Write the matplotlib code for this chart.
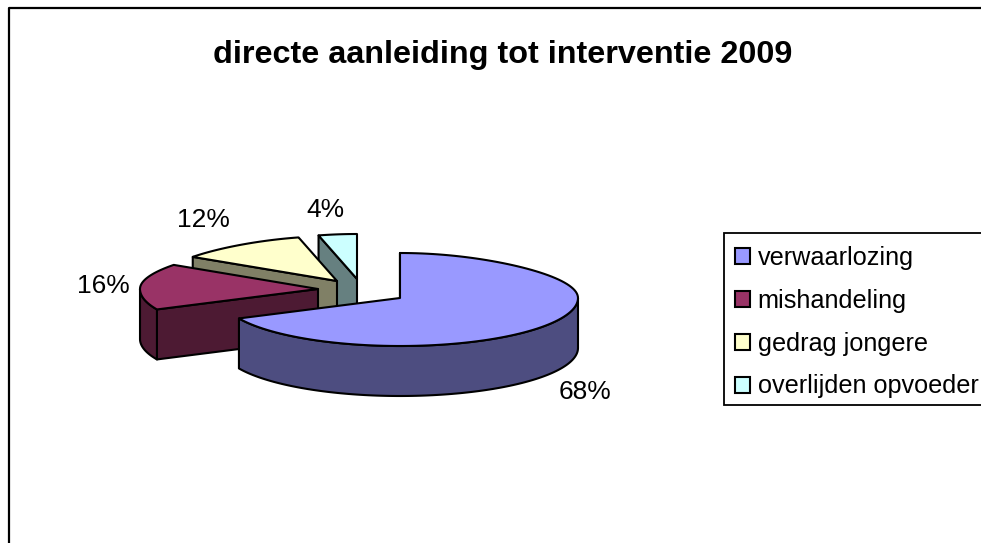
import numpy as np
import matplotlib
matplotlib.use("Agg")
import matplotlib.pyplot as plt
from matplotlib.patches import Polygon, Patch, Rectangle

plt.rcParams['font.family'] = ['Liberation Sans', 'DejaVu Sans']

title = "directe aanleiding tot interventie 2009"
labels = ["verwaarlozing", "mishandeling", "gedrag jongere", "overlijden opvoeder"]
values = [68, 16, 12, 4]

# top colours and the darker side colours
top_colors = ["#9999FF", "#993366", "#FFFFCC", "#CCFFFF"]
side_colors = ["#4D4D80", "#4D1A33", "#808066", "#668080"]

# where the point of each exploded slice sits, in pixels
centers = [(400, 298), (318, 289), (337, 281), (357, 279)]
label_pos = [(585, 392), (103, 286), (203, 220), (325, 210)]

RX = 178
RY_BACK = 45
RY_FRONT = 48
DEPTH = 50


def rim(cx, cy, theta):
    # theta in degrees, clockwise from 12 o'clock. back of the pie is narrower
    t = np.radians(theta)
    c = np.cos(t)
    squeeze = 1 - 0.14 * np.clip(c, 0, None) ** 2
    ry = np.where(c > 0, RY_BACK, RY_FRONT)
    return cx + RX * squeeze * np.sin(t), cy - ry * c


def add_poly(ax, xs, ys, color):
    ax.add_patch(Polygon(np.column_stack([xs, ys]), closed=True, facecolor=color,
                         edgecolor="black", linewidth=1.5, joinstyle="round"))


fig = plt.figure(figsize=(9.81, 5.43), dpi=100)
ax = fig.add_axes([0, 0, 1, 1])
ax.set_xlim(0, 981)
ax.set_ylim(543, 0)
ax.axis("off")

# chart frame runs off the picture on the right and bottom
ax.plot([8.5, 8.5, 990], [550, 7.5, 7.5], color="black", linewidth=1.6)

ends = np.cumsum(values) / np.sum(values) * 360
starts = np.concatenate([[0], ends[:-1]])

# back slices first, the big one goes on top
for i in [3, 2, 1, 0]:
    cx, cy = centers[i]
    a, b = starts[i], ends[i]
    thetas = np.linspace(a, b, 120)
    x, y = rim(cx, cy, thetas)

    # cut face at the start of the slice
    sx, sy = rim(cx, cy, a)
    add_poly(ax, [sx, cx, cx, sx], [sy, cy, cy + DEPTH, sy + DEPTH], side_colors[i])

    # outer wall, only the part that faces us
    lo, hi = max(a, 90), min(b, 270)
    if hi > lo:
        wt = np.linspace(lo, hi, 120)
        wx, wy = rim(cx, cy, wt)
        add_poly(ax, np.r_[wx, wx[::-1]], np.r_[wy, wy[::-1] + DEPTH], side_colors[i])

    add_poly(ax, np.r_[cx, x], np.r_[cy, y], top_colors[i])

    ax.text(label_pos[i][0], label_pos[i][1], "%d%%" % values[i], fontsize=19,
            ha="center", va="center", color="black")

ax.text(503, 55, title, fontsize=23.3, fontweight="bold", ha="center", va="center")

# legend box also runs off the right side, so it is drawn by hand
ax.add_patch(Rectangle((724, 233), 270, 172, facecolor="white", edgecolor="black", linewidth=1.3))
handles = [Patch(facecolor=c, edgecolor="black", linewidth=1.5) for c in top_colors]
leg = ax.legend(handles, labels, loc="upper left", bbox_to_anchor=(724 / 981, 1 - 235 / 543),
                fontsize=18.2, frameon=False,
                handlelength=0.59, handleheight=0.59, handletextpad=0.32,
                labelspacing=0.75, borderaxespad=0, borderpad=0.42)

fig.savefig("out.png", dpi=100)
